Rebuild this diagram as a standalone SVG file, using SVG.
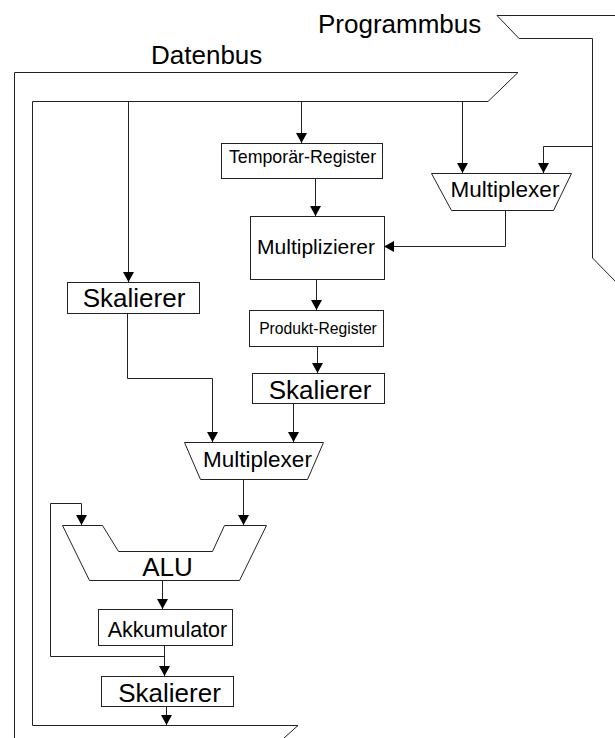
<svg xmlns="http://www.w3.org/2000/svg" width="615" height="738" viewBox="0 0 615 738">
  <style>
    .ln { fill: none; stroke: #222; stroke-width: 1; }
    .box { fill: #fff; stroke: #222; stroke-width: 1; }
    .t { font-family: "Liberation Sans", Arial, sans-serif; fill: #000; text-anchor: middle; }
    .bus { font-family: "Liberation Sans", Arial, sans-serif; fill: #000; }
  </style>
  <defs>
    <marker id="arrow" markerUnits="userSpaceOnUse" markerWidth="10" markerHeight="11" refX="10" refY="5.5" orient="auto">
      <path d="M0,0 L10,5.5 L0,11 z" fill="#000"/>
    </marker>
  </defs>
  <rect width="615" height="738" fill="#fff"/>

  <!-- Buses -->
  <g id="programmbus">
    <path class="ln" d="M615,15.5 H497 L519,38.5 H592.5 V258 L615,281"/>
    <text class="bus" x="318" y="33" font-size="26">Programmbus</text>
  </g>
  <g id="datenbus">
    <path class="ln" d="M14.5,738 V72.5 H518 L488,101.5 H32.5 V725.5 H298 L284,738"/>
    <text class="bus" x="151" y="64" font-size="26">Datenbus</text>
  </g>

  <!-- Connectors -->
  <g id="connectors" class="ln">
    <path d="M128.5,101.5 V282" marker-end="url(#arrow)"/>
    <path d="M301.5,101.5 V143" marker-end="url(#arrow)"/>
    <path d="M462.5,101.5 V173" marker-end="url(#arrow)"/>
    <path d="M592.5,146.5 H543.5 V173" marker-end="url(#arrow)"/>
    <path d="M505.5,210 V246.5 H384" marker-end="url(#arrow)"/>
    <path d="M315.5,178 V216" marker-end="url(#arrow)"/>
    <path d="M316.5,279 V310" marker-end="url(#arrow)"/>
    <path d="M317.5,346 V373" marker-end="url(#arrow)"/>
    <path d="M127.5,313 V378.5 H212.5 V442" marker-end="url(#arrow)"/>
    <path d="M293.5,403 V442" marker-end="url(#arrow)"/>
    <path d="M243.5,479 V525" marker-end="url(#arrow)"/>
    <path d="M162.5,580 V609" marker-end="url(#arrow)"/>
    <path d="M164.5,645 V676" marker-end="url(#arrow)"/>
    <path d="M164.5,656.5 H50.5 V503.5 H81.5 V525" marker-end="url(#arrow)"/>
    <path d="M166.5,706 V725" marker-end="url(#arrow)"/>
  </g>

  <!-- Blocks -->
  <g id="temp-register">
    <rect class="box" x="221.5" y="143.5" width="161" height="35"/>
    <text class="t" x="302.5" y="163" font-size="17.8">Temporär-Register</text>
  </g>
  <g id="mux-program">
    <polygon class="box" points="431.5,173.5 571.5,173.5 553.5,210.5 451.5,210.5"/>
    <text class="t" x="505" y="197" font-size="22.5">Multiplexer</text>
  </g>
  <g id="multiplizierer">
    <rect class="box" x="250.5" y="216.5" width="134" height="63"/>
    <text class="t" x="316" y="254" font-size="21">Multiplizierer</text>
  </g>
  <g id="skalierer-links">
    <rect class="box" x="67.5" y="282.5" width="132" height="31"/>
    <text class="t" x="134" y="307" font-size="26">Skalierer</text>
  </g>
  <g id="produkt-register">
    <rect class="box" x="249.5" y="310.5" width="134" height="36"/>
    <text class="t" x="318" y="333.5" font-size="15.7">Produkt-Register</text>
  </g>
  <g id="skalierer-mitte">
    <rect class="box" x="252.5" y="373.5" width="132" height="30"/>
    <text class="t" x="320" y="399" font-size="26">Skalierer</text>
  </g>
  <g id="mux-daten">
    <polygon class="box" points="184.5,442.5 323.5,442.5 307.5,479.5 200.5,479.5"/>
    <text class="t" x="257.5" y="467" font-size="22.5">Multiplexer</text>
  </g>
  <g id="alu">
    <polygon class="box" points="62.5,525.5 102.5,525.5 118.5,551.5 212.5,551.5 224.5,525.5 266.5,525.5 239.5,580.5 89.5,580.5"/>
    <text class="t" x="167.5" y="576" font-size="26">ALU</text>
  </g>
  <g id="akkumulator">
    <rect class="box" x="98.5" y="609.5" width="134" height="36"/>
    <text class="t" x="167.5" y="637" font-size="21.5">Akkumulator</text>
  </g>
  <g id="skalierer-unten">
    <rect class="box" x="101.5" y="676.5" width="132" height="30"/>
    <text class="t" x="169.5" y="702" font-size="26">Skalierer</text>
  </g>
</svg>
